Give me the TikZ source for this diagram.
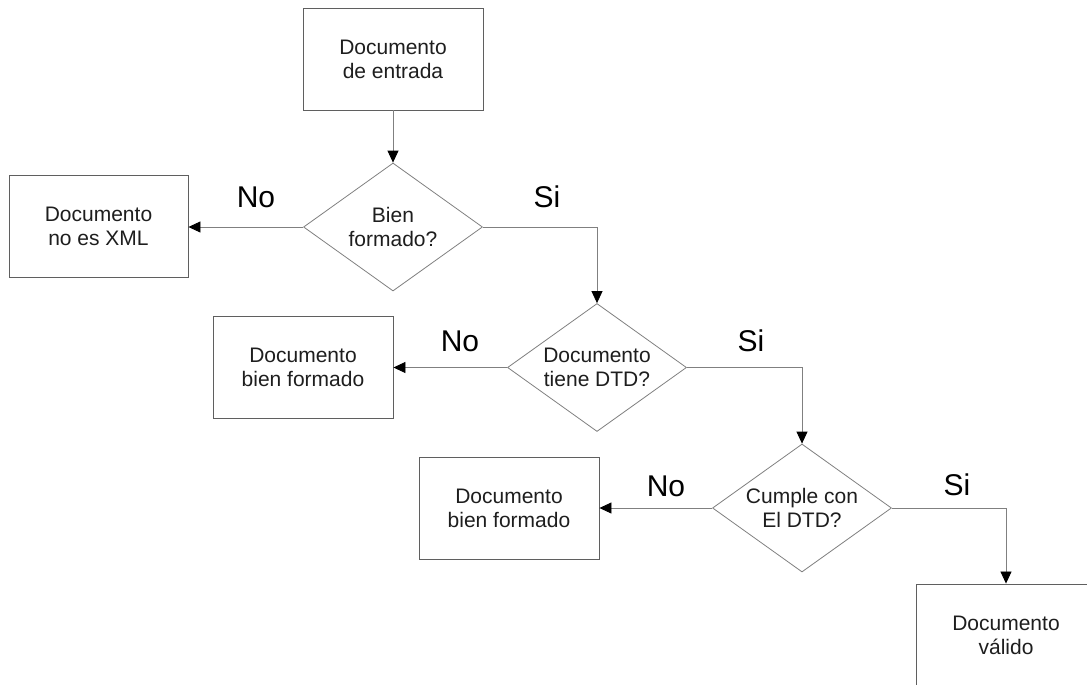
\documentclass[tikz,border=0pt]{standalone}
\usepackage{fontspec}
\setmainfont{Liberation Sans}
\usetikzlibrary{shapes.geometric,arrows.meta}
\definecolor{edgegray}{RGB}{128,128,128}
\definecolor{boxgray}{RGB}{95,95,95}
\definecolor{inkcol}{RGB}{30,30,30}
\tikzset{
  box/.style={draw=boxgray, line width=0.9pt, rectangle, minimum width=180pt,
    minimum height=102pt, inner sep=0pt, align=center, text=inkcol,
    font=\fontsize{21}{24}\selectfont},
  decision/.style={draw=edgegray, line width=0.8pt, diamond, minimum width=179pt,
    minimum height=128pt, inner sep=0pt, aspect=1.4},
  dtext/.style={align=center, text=inkcol, inner sep=0pt,
    font=\fontsize{21}{24}\selectfont},
  answer/.style={text=black, inner sep=0pt, font=\fontsize{30}{30}\selectfont},
  flow/.style={draw=edgegray, line width=0.8pt,
    -{Triangle[length=12pt,width=11pt,color=black]}},
}
\begin{document}
\begin{tikzpicture}[x=1pt,y=-1pt]
  \clip (0,0) rectangle (1087,685);
  \fill[white] (0,0) rectangle (1087,685);

  % process boxes
  \node[box] (inicio) at (393,59) {Documento\\de entrada};
  \node[box, minimum width=179pt] (noxml) at (98.5,226) {Documento\\no es XML};
  \node[box] (bf1) at (303,367) {Documento\\bien formado};
  \node[box] (bf2) at (509,508) {Documento\\bien formado};
  \node[box] (valido) at (1006,635) {Documento\\válido};

  % decisions
  \node[decision] (q1) at (393,227) {};
  \node[dtext] (q1t) at (q1) {Bien\\formado?};
  \node[decision] (q2) at (597,367.5) {};
  \node[dtext] (q2t) at (q2) {Documento\\tiene DTD?};
  \node[decision] (q3) at (802,508) {};
  \node[dtext] (q3t) at (q3) {Cumple con\\El DTD?};

  % answers
  \node[answer] (no1) at (256,197) {No};
  \node[answer] (si1) at (547,197) {Si};
  \node[answer] (no2) at (460,341) {No};
  \node[answer] (si2) at (751,341) {Si};
  \node[answer] (no3) at (666,486) {No};
  \node[answer] (si3) at (957,485) {Si};

  % connectors
  \draw[flow] (inicio.south) -- (q1.north);
  \draw[flow] (q1.west) -- (q1.west -| noxml.east);
  \draw[flow] (q1.east) -| (q2.north);
  \draw[flow] (q2.west) -- (q2.west -| bf1.east);
  \draw[flow] (q2.east) -| (q3.north);
  \draw[flow] (q3.west) -- (q3.west -| bf2.east);
  \draw[flow] (q3.east) -| (valido.north);
\end{tikzpicture}
\end{document}
